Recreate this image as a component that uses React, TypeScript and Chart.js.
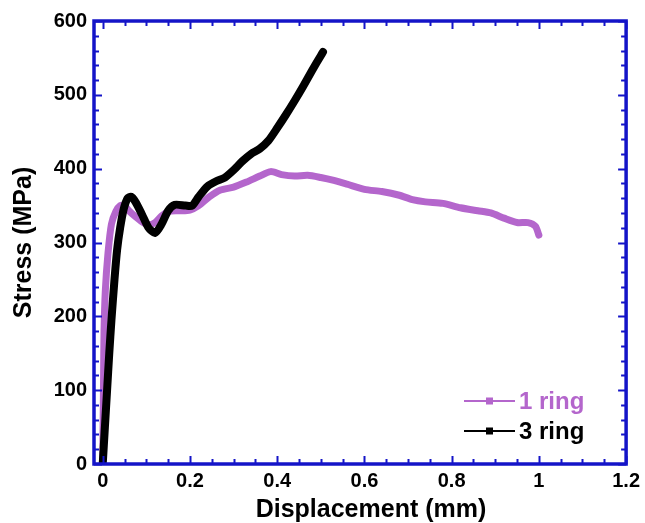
import React, { useEffect, useRef } from 'react';
import { Chart, registerables } from 'chart.js';

Chart.register(...registerables);

// ---- data ----
const seriesNames = ['1 ring', '3 ring'];
const xTitle = 'Displacement (mm)';
const yTitle = 'Stress (MPa)';

const ring1X = [0, 0.001, 0.002, 0.003, 0.006, 0.012, 0.02, 0.03, 0.04, 0.05, 0.06, 0.075, 0.09, 0.105, 0.12, 0.135, 0.15, 0.175, 0.2, 0.22, 0.245, 0.27, 0.3, 0.33, 0.36, 0.385, 0.41, 0.44, 0.47, 0.5, 0.53, 0.56, 0.6, 0.64, 0.68, 0.71, 0.74, 0.78, 0.82, 0.86, 0.89, 0.92, 0.95, 0.975, 0.992, 1.0];
const ring1Y = [0, 60, 120, 180, 235, 285, 325, 342, 350, 350, 343, 335, 328, 324, 327, 336, 342, 343, 344, 350, 362, 371, 375, 382, 390, 396, 392, 390, 391, 388, 384, 379, 372, 369, 364, 358, 355, 353, 347, 343, 340, 333, 327, 327, 322, 310];

const ring3X = [0, 0.005, 0.01, 0.015, 0.02, 0.027, 0.033, 0.04, 0.048, 0.057, 0.065, 0.075, 0.09, 0.105, 0.12, 0.135, 0.15, 0.165, 0.19, 0.205, 0.22, 0.24, 0.26, 0.28, 0.3, 0.32, 0.34, 0.36, 0.38, 0.4, 0.42, 0.44, 0.46, 0.48, 0.5, 0.505];
const ring3Y = [0, 50, 100, 150, 195, 250, 290, 320, 345, 360, 362, 355, 338, 320, 313, 325, 343, 351, 350, 350, 362, 376, 383, 388, 398, 410, 420, 427, 438, 455, 473, 492, 512, 533, 553, 558];

const xTicks = [0, 0.2, 0.4, 0.6, 0.8, 1, 1.2];
const yTicks = [0, 100, 200, 300, 400, 500, 600];

// ---- styles ----
const PURPLE = '#b466cc';
const BLUE = '#1414c8';
const FONT = '"Liberation Sans", Arial, sans-serif';

const framePlugin = {
  id: 'frame',
  afterDatasetsDraw(chart: any) {
    const { ctx, chartArea: a, scales } = chart;
    const xs = scales.x;
    const ys = scales.y;
    ctx.save();
    ctx.strokeStyle = BLUE;
    ctx.lineWidth = 2;
    ctx.beginPath();
    for (let i = 0; i <= 24; i++) {
      const v = i * 0.05;
      const px = Math.round(xs.getPixelForValue(v)) + 0.5;
      const len = i % 4 === 0 ? 8 : 5;
      ctx.moveTo(px, a.bottom);
      ctx.lineTo(px, a.bottom - len);
      ctx.moveTo(px, a.top);
      ctx.lineTo(px, a.top + len);
    }
    for (let i = 0; i <= 30; i++) {
      const v = i * 20;
      const py = Math.round(ys.getPixelForValue(v)) + 0.5;
      const len = i % 5 === 0 ? 8 : 5;
      ctx.moveTo(a.left, py);
      ctx.lineTo(a.left + len, py);
      ctx.moveTo(a.right, py);
      ctx.lineTo(a.right - len, py);
    }
    ctx.stroke();
    ctx.lineWidth = 3.5;
    ctx.strokeRect(a.left, a.top, a.right - a.left, a.bottom - a.top);
    ctx.restore();
  },
};

const textPlugin = {
  id: 'customText',
  afterDraw(chart: any) {
    const { ctx } = chart;
    const items = [
      { label: seriesNames[0], color: PURPLE, y: 401 },
      { label: seriesNames[1], color: '#000000', y: 431 },
    ];
    ctx.save();
    for (const it of items) {
      ctx.strokeStyle = it.color;
      ctx.fillStyle = it.color;
      ctx.lineWidth = 2;
      ctx.beginPath();
      ctx.moveTo(464, it.y);
      ctx.lineTo(515, it.y);
      ctx.stroke();
      ctx.fillRect(486, it.y - 3.5, 7, 7);
      ctx.font = `bold 24px ${FONT}`;
      ctx.textBaseline = 'middle';
      ctx.textAlign = 'left';
      ctx.fillText(it.label, 519, it.y + 1);
    }
    // x-axis title (slightly right of centre in the reference)
    ctx.fillStyle = '#000';
    ctx.font = `bold 25px ${FONT}`;
    ctx.textAlign = 'center';
    ctx.textBaseline = 'middle';
    ctx.fillText(xTitle, 371, 510);
    ctx.restore();
  },
};

export default function App() {
  const canvasRef = useRef<HTMLCanvasElement | null>(null);

  useEffect(() => {
    document.body.style.margin = '0';
    const canvas = canvasRef.current;
    if (!canvas) return;
    const tickFont = { family: FONT, size: 20, weight: 'bold' as const };
    const titleFont = { family: FONT, size: 25, weight: 'bold' as const, lineHeight: 1 };
    const chart = new Chart(canvas, {
      type: 'line',
      data: {
        datasets: [
          {
            label: seriesNames[1],
            data: ring3X.map((x, i) => ({ x, y: ring3Y[i] })),
            borderColor: '#000000',
            backgroundColor: '#000000',
            borderWidth: 8,
            pointRadius: 0,
            tension: 0.25,
            borderCapStyle: 'round',
            borderJoinStyle: 'round',
          },
          {
            label: seriesNames[0],
            data: ring1X.map((x, i) => ({ x, y: ring1Y[i] })),
            borderColor: PURPLE,
            backgroundColor: PURPLE,
            borderWidth: 7,
            pointRadius: 0,
            tension: 0.25,
            borderCapStyle: 'round',
            borderJoinStyle: 'round',
          },
        ],
      },
      options: {
        animation: false,
        responsive: false,
        maintainAspectRatio: false,
        layout: { padding: { left: 0, top: 21, right: 18, bottom: 0 } },
        plugins: {
          legend: { display: false },
          tooltip: { enabled: false },
        },
        scales: {
          x: {
            type: 'linear',
            min: -0.02,
            max: 1.2,
            afterBuildTicks: (s: any) => {
              s.ticks = xTicks.map((v) => ({ value: v }));
            },
            afterFit: (s: any) => {
              s.height = 59;
            },
            grid: { display: false, drawTicks: false },
            border: { display: false },
            ticks: {
              padding: 5,
              color: '#000',
              font: tickFont,
              maxRotation: 0,
              autoSkip: false,
              callback: (v: any) => String(v),
            },
            title: { display: false },
          },
          y: {
            type: 'linear',
            min: 0,
            max: 600,
            afterBuildTicks: (s: any) => {
              s.ticks = yTicks.map((v) => ({ value: v }));
            },
            afterFit: (s: any) => {
              s.width = 94;
            },
            grid: { display: false, drawTicks: false },
            border: { display: false },
            ticks: {
              padding: 7,
              color: '#000',
              font: tickFont,
              autoSkip: false,
              callback: (v: any) => String(v),
            },
            title: {
              display: true,
              text: yTitle,
              color: '#000',
              font: titleFont,
              padding: { top: 12, bottom: 0 },
            },
          },
        },
      },
      plugins: [framePlugin, textPlugin],
    } as any);
    return () => chart.destroy();
  }, []);

  return (
    <div style={{ width: 645, height: 523, background: '#fff' }}>
      <canvas ref={canvasRef} width={645} height={523} style={{ display: 'block' }} />
    </div>
  );
}
